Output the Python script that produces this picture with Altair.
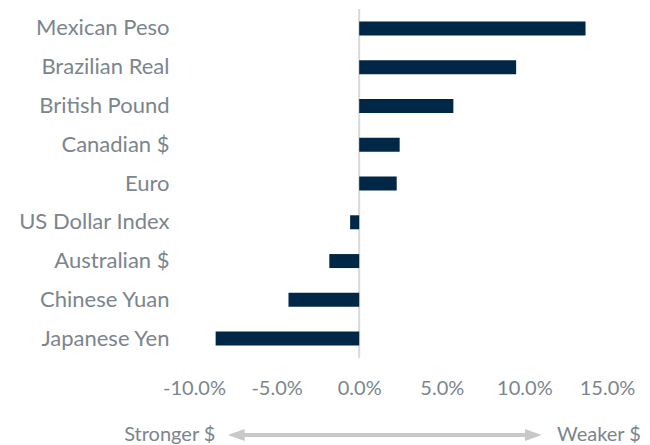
import altair as alt
import pandas as pd

currencies = ["Mexican Peso", "Brazilian Real", "British Pound", "Canadian $", "Euro",
              "US Dollar Index", "Australian $", "Chinese Yuan", "Japanese Yen"]
changes = [13.7, 9.5, 5.7, 2.45, 2.27, -0.55, -1.81, -4.28, -8.69]

tick_values = [-10, -5, 0, 5, 10, 15]
arrow_span = [-7.95, 11.05]
labels_text = ["Stronger $", "Weaker $"]
labels_pos = [-8.7, 17.05]

FONT = "Lato"
TEXT_COLOR = "#7b858d"
BAR_COLOR = "#002746"
ARROW_COLOR = "#c8c8c8"

df = pd.DataFrame({"currency": currencies, "change": changes})

x_scale = alt.Scale(domain=[-10, 15], nice=False, zero=False)

bars = alt.Chart(df).mark_bar(color=BAR_COLOR, size=14).encode(
    x=alt.X("change:Q", scale=x_scale,
            axis=alt.Axis(values=tick_values,
                          labelExpr="(datum.value < 0 ? '-' : '') + format(abs(datum.value), '.1f') + '%'",
                          grid=False, domain=False, ticks=False, title=None,
                          labelFont=FONT, labelFontSize=20, labelColor=TEXT_COLOR,
                          labelPadding=20, labelOverlap=False, labelFlush=False)),
    y=alt.Y("currency:N", sort=currencies,
            axis=alt.Axis(domain=False, ticks=False, title=None, labelFont=FONT,
                          labelFontSize=22, labelColor=TEXT_COLOR, labelPadding=25,
                          labelLimit=300)),
)

zero = alt.Chart(pd.DataFrame({"z": [0]})).mark_rule(color="#d9d9d9", strokeWidth=2).encode(
    x=alt.X("z:Q", scale=x_scale)
)

arrow_df = pd.DataFrame({"a": [arrow_span[0] + 0.5], "b": [arrow_span[1] - 0.5]})
arrow_line = alt.Chart(arrow_df).mark_rule(color=ARROW_COLOR, strokeWidth=4, clip=False).encode(
    x=alt.X("a:Q", scale=x_scale), x2="b:Q", y=alt.value(426)
)

heads_df = pd.DataFrame({"pos": arrow_span,
                         "shape": ["M0,0L2.8,-1L2.8,1Z", "M0,0L-2.8,-1L-2.8,1Z"]})
arrow_heads = alt.Chart(heads_df).mark_point(filled=True, color=ARROW_COLOR, size=144,
                                             opacity=1, strokeWidth=0, clip=False).encode(
    x=alt.X("pos:Q", scale=x_scale),
    y=alt.value(426),
    shape=alt.Shape("shape:N", scale=None, legend=None),
)

txt_df = pd.DataFrame({"pos": labels_pos, "t": labels_text})
txt_left = alt.Chart(txt_df.iloc[[0]]).mark_text(font=FONT, fontSize=20, color=TEXT_COLOR,
                                                  align="right", baseline="middle").encode(
    x=alt.X("pos:Q", scale=x_scale), y=alt.value(426), text="t:N"
)
txt_right = alt.Chart(txt_df.iloc[[1]]).mark_text(font=FONT, fontSize=20, color=TEXT_COLOR,
                                                   align="right", baseline="middle").encode(
    x=alt.X("pos:Q", scale=x_scale), y=alt.value(426), text="t:N"
)

chart = alt.layer(zero, bars, arrow_line, arrow_heads, txt_left, txt_right).properties(
    width=413, height=349, padding={"top": 0, "left": 10, "right": 0, "bottom": 0}
).configure_view(stroke=None).configure_scale(bandPaddingInner=0.0)

chart.save("out.html", embed_options={"renderer": "svg", "actions": False})
